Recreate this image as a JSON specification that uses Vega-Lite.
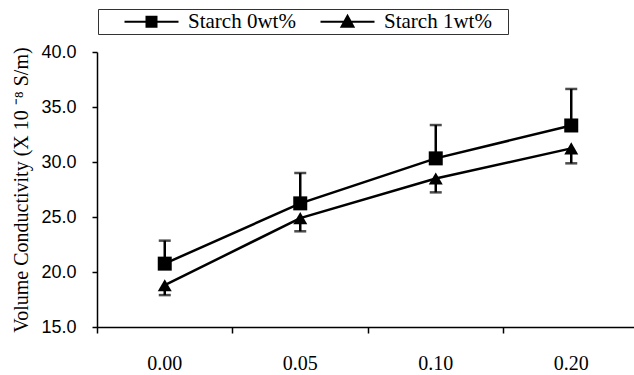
{
  "$schema": "https://vega.github.io/schema/vega-lite/v6.json",
  "width": 537,
  "height": 275,
  "autosize": {"type": "none"},
  "padding": {"left": 97, "top": 52, "right": 0, "bottom": 48},
  "background": "white",
  "config": {"view": {"stroke": null}},
  "data": {
    "values": [
      {"conc": "0.00", "series": "Starch 0wt%", "value": 20.76, "err": 22.85},
      {"conc": "0.05", "series": "Starch 0wt%", "value": 26.24, "err": 29.0},
      {"conc": "0.10", "series": "Starch 0wt%", "value": 30.33, "err": 33.36},
      {"conc": "0.20", "series": "Starch 0wt%", "value": 33.32, "err": 36.64},
      {"conc": "0.00", "series": "Starch 1wt%", "value": 18.8, "err": 17.9},
      {"conc": "0.05", "series": "Starch 1wt%", "value": 24.9, "err": 23.7},
      {"conc": "0.10", "series": "Starch 1wt%", "value": 28.5, "err": 27.24},
      {"conc": "0.20", "series": "Starch 1wt%", "value": 31.24, "err": 29.88}
    ]
  },
  "encoding": {
    "x": {
      "field": "conc",
      "type": "nominal",
      "sort": null,
      "scale": {"type": "band", "range": [0, 542], "paddingInner": 0, "paddingOuter": 0},
      "axis": {
        "title": null,
        "labelAngle": 0,
        "labelFont": "Liberation Serif",
        "labelFontSize": 20,
        "labelColor": "black",
        "labelPadding": 20,
        "ticks": true,
        "tickSize": 6,
        "tickColor": "black",
        "tickWidth": 1.5,
        "tickOpacity": 1,
        "domainColor": "black",
        "domainWidth": 1.5,
        "bandPosition": 0,
        "grid": false
      }
    },
    "y": {
      "field": "value",
      "type": "quantitative",
      "scale": {"domain": [15, 40], "nice": false},
      "axis": {
        "values": [15, 20, 25, 30, 35, 40],
        "format": ".1f",
        "title": "Volume Conductivity (X 10 ⁻⁸ S/m)",
        "titleFont": "Liberation Serif",
        "titleFontSize": 20,
        "titleFontWeight": "normal",
        "titleColor": "black",
        "titlePadding": 9,
        "labelFont": "Liberation Sans",
        "labelFontSize": 18,
        "labelColor": "black",
        "labelPadding": 16,
        "tickSize": 5,
        "tickColor": "black",
        "tickWidth": 1.5,
        "domainColor": "black",
        "domainWidth": 1.5,
        "grid": false
      }
    }
  },
  "layer": [
    {
      "mark": {"type": "line", "strokeWidth": 2.5},
      "encoding": {
        "color": {
          "field": "series",
          "type": "nominal",
          "scale": {"range": ["black", "black"]},
          "legend": {
            "orient": "none",
            "legendX": 1,
            "legendY": -43,
            "direction": "horizontal",
            "title": "\u00a0",
            "titleOrient": "right",
            "titleFontSize": 1,
            "titlePadding": 14,
            "strokeColor": "#333333",
            "fillColor": "white",
            "padding": 2,
            "labelFont": "Liberation Serif",
            "labelFontSize": 21,
            "labelColor": "black",
            "labelOffset": 67,
            "columnPadding": -1,
            "labelLimit": 400,
            "symbolSize": 100,
            "symbolStrokeWidth": 2,
            "symbolStrokeColor": "black",
            "symbolFillColor": "black",
            "encode": {
              "symbols": {
                "update": {
                  "shape": [
                    {"test": "datum.value == 'Starch 0wt%'", "value": "M2.8,0H13.6M7.2,-1H9.2V1H7.2Z"},
                    {"value": "M2.8,0H13.6M8.2,-1.2L9.4,1L7,1Z"}
                  ],
                  "fill": {"value": "black"},
                  "stroke": {"value": "black"},
                  "strokeWidth": {"value": 2}
                }
              },
              "labels": {
                "update": {
                  "font": {"value": "Liberation Serif"},
                  "fontSize": {"value": 21},
                  "fill": {"value": "black"}
                }
              }
            }
          }
        }
      }
    },
    {
      "mark": {"type": "rule", "strokeWidth": 2.5, "color": "black"},
      "encoding": {
        "y2": {"field": "err"}
      }
    },
    {
      "mark": {"type": "tick", "size": 12, "thickness": 2.5, "color": "black"},
      "encoding": {
        "y": {"field": "err", "type": "quantitative"}
      }
    },
    {
      "mark": {"type": "point", "filled": true, "opacity": 1, "size": 196, "color": "black"},
      "encoding": {
        "shape": {
          "field": "series",
          "type": "nominal",
          "scale": {"range": ["square", "triangle-up"]},
          "legend": null
        }
      }
    }
  ]
}
